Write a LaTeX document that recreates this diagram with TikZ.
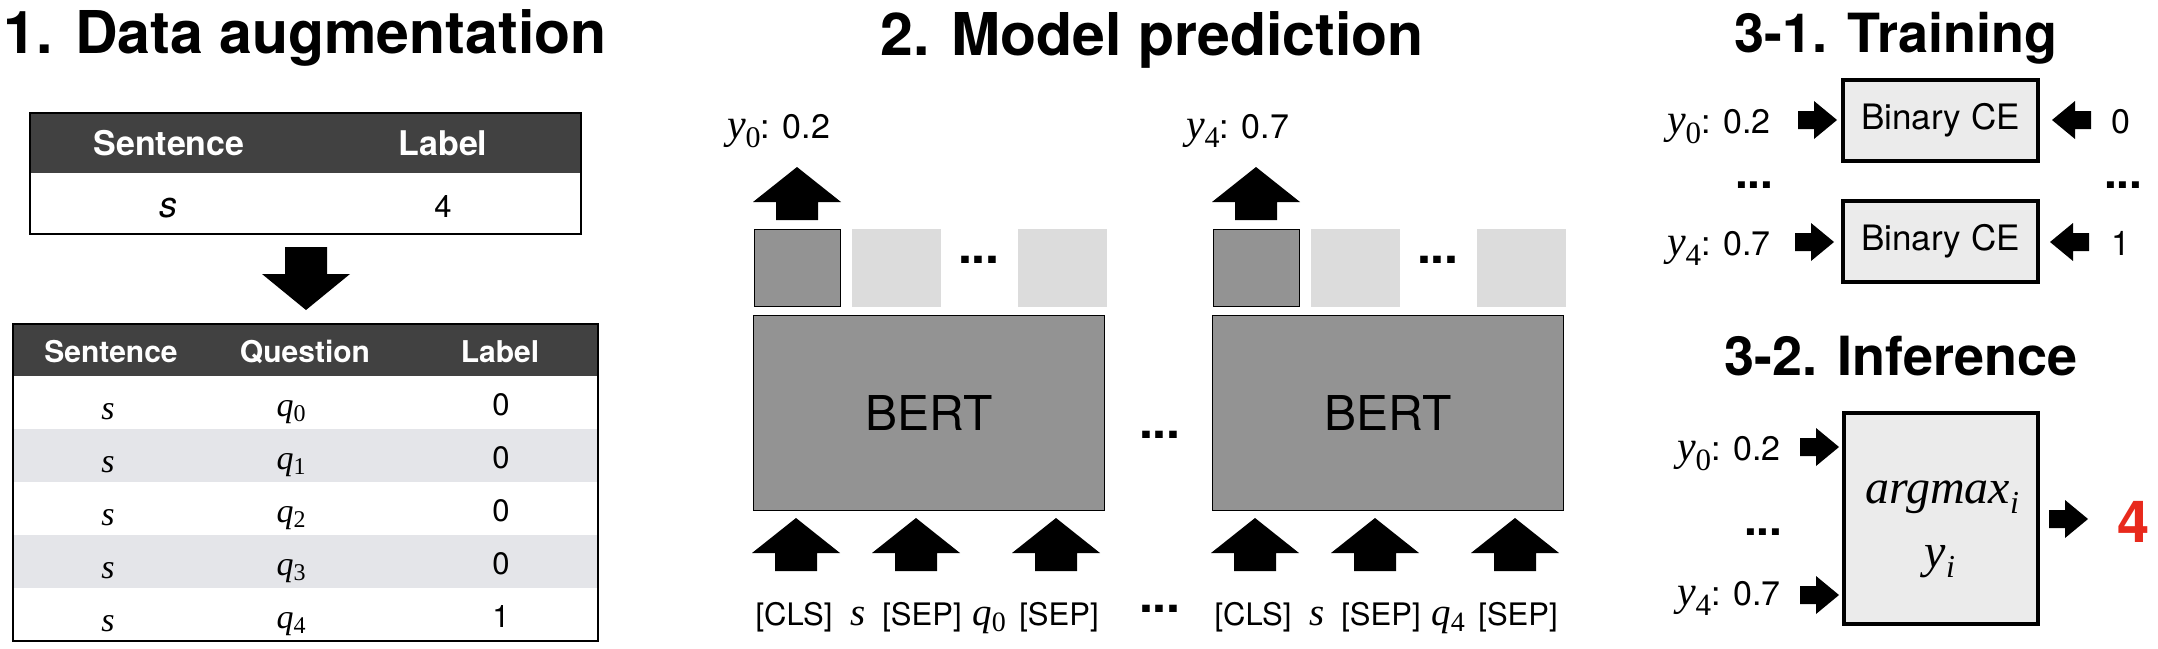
\documentclass[tikz,border=0pt]{standalone}
\usepackage{fontspec}
\setmainfont{TeX Gyre Heros}
\newfontfamily\tms{Liberation Serif}
\newcommand\Fsz[1]{\fontsize{#1}{#1}\selectfont}
\newcommand\Tv[5]{{\tms\itshape\Fsz{#1}#2}\raisebox{-#5pt}{\tms\Fsz{#3}#4}}
\definecolor{hdr}{HTML}{414141}
\definecolor{bertg}{HTML}{939393}
\definecolor{lightsq}{HTML}{DCDCDC}
\definecolor{rowalt}{HTML}{E4E5E9}
\definecolor{cebox}{HTML}{EBEBEB}
\definecolor{redfour}{HTML}{E8291C}
\tikzset{
 uparrowpic/.pic={\fill (0,0) -- (44,35) -- (21,35) -- (21,53) -- (-21,53) -- (-21,35) -- (-44,35) -- cycle;},
 downarrowpic/.pic={\fill (0,0) -- (44,-36) -- (21,-36) -- (21,-63) -- (-21,-63) -- (-21,-36) -- (-44,-36) -- cycle;},
 rarrowpic/.pic={\fill (0,0) -- (-23,-19) -- (-23,-9) -- (-39,-9) -- (-39,9) -- (-23,9) -- (-23,19) -- cycle;},
 larrowpic/.pic={\fill (0,0) -- (23,-19) -- (23,-9) -- (39,-9) -- (39,9) -- (23,9) -- (23,19) -- cycle;},
 txt/.style={inner sep=0pt,outer sep=0pt},
 ttl/.style={txt,font=\bfseries\Fsz{59}},
 ttlb/.style={txt,font=\bfseries\Fsz{54},anchor=base},
 hdrtxt/.style={txt,anchor=base,text=white,font=\bfseries\Fsz{#1}},
 dotstxt/.style={txt,anchor=base west,font=\bfseries\Fsz{#1}},
 tline/.style={draw=black,line width=1.5pt},
 sqdark/.style={draw=black,line width=1.2pt,fill=bertg,minimum width=86pt,minimum height=77pt,inner sep=0pt},
 sqlight/.style={fill=lightsq,minimum width=89pt,minimum height=78pt,inner sep=0pt},
 bertbox/.style={draw=black,line width=1.2pt,fill=bertg,minimum width=351pt,minimum height=195pt,inner sep=0pt,font=\Fsz{48}},
 tok/.style={txt,anchor=base,font=\Fsz{31}},
 cebx/.style={draw=black,line width=4pt,fill=cebox,minimum width=195pt,minimum height=81pt,inner sep=0pt,font=\Fsz{35}},
}
\begin{document}
\begin{tikzpicture}[x=1pt,y=-1pt]
\useasboundingbox (0,0) rectangle (2158,648);
% ---------- 1. Data augmentation ----------
\node[ttl,anchor=base west] (title1) at (4,53) {1. Data augmentation};
\fill[hdr] (30,113) rectangle (581,173);
\draw[tline] (30,113) rectangle (581,234);
\node[hdrtxt=34] (t1h1) at (169,155) {Sentence};
\node[hdrtxt=34] (t1h2) at (443,155) {Label};
\node[txt,anchor=base,font=\itshape\Fsz{36}] (t1s) at (168,217) {s};
\node[txt,anchor=base,font=\Fsz{31}] (t1l) at (443,217) {4};
\pic (down1) at (306,310) {downarrowpic};
\fill[hdr] (13,324) rectangle (598,376);
\fill[rowalt] (13,429) rectangle (598,482);
\fill[rowalt] (13,535) rectangle (598,588);
\draw[tline] (13,324) rectangle (598,641);
\node[hdrtxt=30] (t2h1) at (111,362) {Sentence};
\node[hdrtxt=30] (t2h2) at (305,362) {Question};
\node[hdrtxt=30] (t2h3) at (500,362) {Label};
\foreach \i/\yy/\lab in {0/0/0,1/53/0,2/106/0,3/159/0,4/212/1} {
 \node[txt,anchor=base] (s\i) at (108,419+\yy) {\tms\itshape\Fsz{34}s};
 \node[txt,anchor=base] (q\i) at (291,416+\yy) {\Tv{34}{q}{24}{\i}{5}};
 \node[txt,anchor=base,font=\Fsz{31}] (l\i) at (501,415+\yy) {\lab};
}
% ---------- 2. Model prediction ----------
\node[ttl,anchor=base] (title2) at (1152,55) {2. Model prediction};
\foreach \m/\dx/\yl/\yv/\q in {a/0/0/0.2/0,b/459/4/0.7/4} {
 \begin{scope}[xshift=\dx pt]
  \node[txt,anchor=base west] (lab\m) at (727,138) {\Tv{42}{y}{30}{\yl}{9}\Fsz{34}: \yv};
  \pic (outarr\m) at (797,167) {uparrowpic};
  \node[sqdark] (cls\m) at (797.5,268) {};
  \node[sqlight] (tokb\m) at (896.5,268) {};
  \node[sqlight] (tokc\m) at (1062.5,268) {};
  \node[dotstxt=50] (dotsq\m) at (958,263) {...};
  \node[bertbox] (bert\m) at (929,413) {BERT};
  \pic (inA\m) at (796,518) {uparrowpic};
  \pic (inB\m) at (916,518) {uparrowpic};
  \pic (inC\m) at (1056,518) {uparrowpic};
  \node[tok] (tcls\m) at (794,625) {[CLS]};
  \node[txt,anchor=base] (ts\m) at (858,625) {\tms\itshape\Fsz{39}s};
  \node[tok] (tsep\m) at (922,625) {[SEP]};
  \node[txt,anchor=base] (tq\m) at (989,625) {\Tv{39}{q}{28}{\q}{6}};
  \node[tok] (tsepb\m) at (1059,625) {[SEP]};
 \end{scope}
}
\node[dotstxt=50] (middots) at (1139,438) {...};
\node[dotstxt=50] (botdots) at (1139,612) {...};
% ---------- 3-1. Training ----------
\node[ttlb] (title31) at (1896,52) {3-1. Training};
\node[cebx] (ce0) at (1940.5,120.5) {Binary CE};
\node[cebx] (ce4) at (1940.5,241.5) {Binary CE};
\node[txt,anchor=base west] (tr0) at (1667,133) {\Tv{42}{y}{31}{0}{10}\Fsz{34}:\hspace{13pt}0.2};
\node[txt,anchor=base west] (tr4) at (1667,255) {\Tv{42}{y}{31}{4}{10}\Fsz{34}:\hspace{13pt}0.7};
\pic (tra0) at (1837,120) {rarrowpic};
\pic (tra4) at (1834,242) {rarrowpic};
\pic (trb0) at (2052,120) {larrowpic};
\pic (trb4) at (2050,242) {larrowpic};
\node[txt,anchor=base,font=\Fsz{34}] (gt0) at (2121,133) {0};
\node[txt,anchor=base,font=\Fsz{34}] (gt4) at (2121,255) {1};
\node[dotstxt=46] (trdl) at (1735,188) {...};
\node[dotstxt=46] (trdr) at (2104,188) {...};
% ---------- 3-2. Inference ----------
\node[ttlb] (title32) at (1901,375) {3-2. Inference};
\node[cebx,minimum width=194pt,minimum height=211pt] (infbox) at (1941,518.5) {};
\node[txt,anchor=base] (argm) at (1942,503) {\Tv{48}{argmax}{32}{\itshape i}{10}};
\node[txt,anchor=base] (yi) at (1940,567) {\Tv{48}{y}{32}{\itshape i}{10}};
\node[txt,anchor=base west] (in0) at (1677,460) {\Tv{42}{y}{31}{0}{10}\Fsz{34}:\hspace{13pt}0.2};
\node[txt,anchor=base west] (in4) at (1677,605) {\Tv{42}{y}{31}{4}{10}\Fsz{34}:\hspace{13pt}0.7};
\pic (ina0) at (1839,447) {rarrowpic};
\pic (ina4) at (1839,595) {rarrowpic};
\pic (outa) at (2088,519) {rarrowpic};
\node[dotstxt=46] (indots) at (1744,535) {...};
\node[txt,anchor=base west,font=\bfseries\Fsz{58},text=redfour] (pred) at (2117,542) {4};
\end{tikzpicture}
\end{document}
